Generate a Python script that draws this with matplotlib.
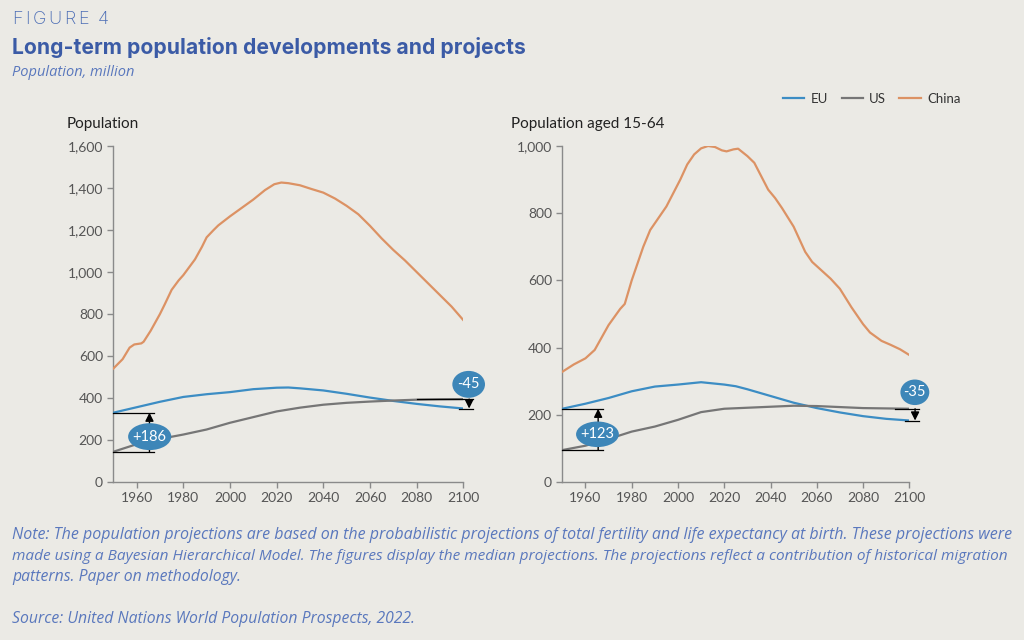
import matplotlib.pyplot as plt
from matplotlib.patches import Ellipse
from matplotlib.lines import Line2D

# ---- data (million) ----
eu_years = [1950, 1960, 1970, 1980, 1990, 2000, 2010, 2020, 2025, 2030, 2040, 2050, 2060, 2070, 2080, 2090, 2100]
eu_total = [330, 356, 382, 405, 418, 428, 442, 449, 450, 446, 436, 420, 402, 386, 372, 360, 350]
eu_working = [218, 233, 250, 270, 284, 290, 297, 290, 285, 276, 256, 236, 220, 207, 196, 188, 183]

us_years = [1950, 1960, 1970, 1980, 1990, 2000, 2010, 2020, 2030, 2040, 2050, 2060, 2070, 2080, 2090, 2100]
us_total = [144, 180, 205, 226, 250, 282, 309, 336, 354, 368, 377, 383, 388, 392, 394, 395]
us_working = [95, 108, 128, 150, 165, 185, 208, 218, 221, 224, 227, 226, 223, 220, 219, 218]

china_total_years = [1950, 1954, 1957, 1959, 1962, 1963, 1966, 1970, 1972, 1975, 1978, 1980, 1985, 1988,
                     1990, 1993, 1995, 2000, 2005, 2010, 2015, 2019, 2022, 2025, 2030, 2035, 2040, 2045,
                     2050, 2055, 2060, 2065, 2070, 2075, 2080, 2085, 2090, 2095, 2100]
china_total = [540, 585, 640, 655, 660, 668, 720, 800, 845, 915, 960, 985, 1060, 1120,
               1165, 1200, 1222, 1265, 1305, 1345, 1390, 1418, 1426, 1423, 1413, 1395, 1378, 1350,
               1315, 1275, 1220, 1160, 1105, 1055, 1000, 945, 890, 835, 771]

china_working_years = [1950, 1955, 1960, 1964, 1967, 1970, 1975, 1977, 1980, 1985, 1988, 1992, 1995, 1998,
                       2001, 2004, 2007, 2010, 2013, 2016, 2019, 2021, 2024, 2026, 2030, 2033, 2036, 2039,
                       2042, 2045, 2050, 2055, 2058, 2062, 2066, 2070, 2075, 2080, 2083, 2088, 2092, 2096, 2100]
china_working = [328, 350, 368, 393, 430, 467, 515, 530, 600, 700, 750, 790, 820, 860,
                 900, 945, 975, 993, 1000, 997, 987, 984, 990, 992, 970, 950, 910, 870,
                 845, 815, 760, 685, 655, 630, 605, 575, 520, 470, 445, 420, 408, 395, 378]

panel_titles = ["Population", "Population aged 15-64"]
x_ticks = [1960, 1980, 2000, 2020, 2040, 2060, 2080, 2100]

BG = "#ebeae5"
EU_C = "#3c8dc4"
US_C = "#767676"
CN_C = "#dc9264"
BADGE = "#3d86b8"
BLUE_TXT = "#3b5ba6"
NOTE_C = "#5a78bd"

fig = plt.figure(figsize=(10.24, 6.4), dpi=100, facecolor=BG)
renderer = fig.canvas.get_renderer()

# header: "FIGURE 4" with wide letter spacing, one glyph at a time
x_px = 12
for ch in "FIGURE 4":
    t = fig.text(x_px / 1024, 1 - 20 / 640, ch, fontsize=13, color="#4a6cb5", family="Inter",
                 fontweight="light", va="center")
    w = t.get_window_extent(renderer).width if ch != " " else 4
    x_px += w + 2.6
fig.text(12 / 1024, 1 - 48 / 640, "Long-term population developments and projects", fontsize=15.2,
         color=BLUE_TXT, family="Inter", fontweight="bold", va="center")
fig.text(12 / 1024, 1 - 73 / 640, "Population, million", fontsize=10.5, color=NOTE_C, family="Open Sans",
         style="italic", va="center")

panels = [
    dict(rect=[113.3 / 1024, 158 / 640, 350 / 1024, 336 / 640], eu=eu_total, us=us_total,
         cn_x=china_total_years, cn=china_total, ylim=1600, ystep=200, yfmt="{:,.0f}",
         ell_h=128, lab1=(1965.6, 216), lab2=(2102.3, 465), w1=18.5, w2=14),
    dict(rect=[562.3 / 1024, 158 / 640, 347 / 1024, 336 / 640], eu=eu_working, us=us_working,
         cn_x=china_working_years, cn=china_working, ylim=1000, ystep=200, yfmt="{:,.0f}",
         ell_h=76, lab1=(1965.2, 142), lab2=(2102.4, 267), w1=18.5, w2=12.5),
]

for i, p in enumerate(panels):
    ax = fig.add_axes(p["rect"])
    ax.set_facecolor(BG)
    ax.plot(eu_years, p["eu"], color=EU_C, lw=1.6, label="EU", zorder=3)
    ax.plot(us_years, p["us"], color=US_C, lw=1.6, label="US", zorder=3)
    ax.plot(p["cn_x"], p["cn"], color=CN_C, lw=1.6, label="China", zorder=3)

    ax.set_xlim(1950, 2100)
    ax.set_ylim(0, p["ylim"])
    ax.set_xticks(x_ticks)
    yt = list(range(0, p["ylim"] + 1, p["ystep"]))
    ax.set_yticks(yt)
    ax.set_yticklabels([p["yfmt"].format(v) for v in yt])
    for s in ["top", "right"]:
        ax.spines[s].set_visible(False)
    for s in ["left", "bottom"]:
        ax.spines[s].set_color("#8a8a8a")
        ax.spines[s].set_linewidth(1.0)
    ax.tick_params(colors="#8a8a8a", labelcolor="#555555", labelsize=10, length=4, width=1.0)
    for lab in ax.get_xticklabels() + ax.get_yticklabels():
        lab.set_family("Lato")

    # start gap (EU minus US in 1950)
    eu0, us0 = p["eu"][0], p["us"][0]
    for yv in (eu0, us0):
        ax.plot([1950, 1967.5], [yv, yv], color="black", lw=0.9, clip_on=False, zorder=4)
    ax.annotate("", xy=(1965.5, eu0), xytext=(1965.5, us0), annotation_clip=False,
                arrowprops=dict(arrowstyle="-|>,head_width=0.25,head_length=0.5", color="black", lw=1.0,
                                shrinkA=0, shrinkB=0), zorder=4)
    e = Ellipse(p["lab1"], p["w1"], p["ell_h"], facecolor=BADGE, edgecolor="none", clip_on=False, zorder=5)
    ax.add_patch(e)
    ax.text(p["lab1"][0], p["lab1"][1], f"+{eu0 - us0:.0f}", color="white", fontsize=10.5, family="Lato",
            ha="center", va="center", zorder=6)

    # end gap (EU minus US in 2100)
    eu1, us1 = p["eu"][-1], p["us"][-1]
    ax.plot([2080 if i == 0 else 2094, 2104], [us1, us1], color="black", lw=0.9, clip_on=False, zorder=4)
    ax.plot([2098, 2104], [eu1, eu1], color="black", lw=0.9, clip_on=False, zorder=4)
    ax.annotate("", xy=(2102.5, eu1), xytext=(2102.5, us1), annotation_clip=False,
                arrowprops=dict(arrowstyle="-|>,head_width=0.25,head_length=0.5", color="black", lw=1.0,
                                shrinkA=0, shrinkB=0), zorder=4)
    e = Ellipse(p["lab2"], p["w2"], p["ell_h"], facecolor=BADGE, edgecolor="none", clip_on=False, zorder=5)
    ax.add_patch(e)
    ax.text(p["lab2"][0], p["lab2"][1], f"{eu1 - us1:.0f}", color="white", fontsize=10.5, family="Lato",
            ha="center", va="center", zorder=6)

    fig.text((67 if i == 0 else 511) / 1024, 1 - 124 / 640, panel_titles[i], fontsize=11, color="#222222",
             family="Lato", va="center")

handles = [Line2D([], [], color=EU_C, lw=1.6), Line2D([], [], color=US_C, lw=1.6),
           Line2D([], [], color=CN_C, lw=1.6)]
fig.legend(handles, ["EU", "US", "China"], loc="center", bbox_to_anchor=(872 / 1024, 1 - 99 / 640), ncol=3,
           frameon=False, prop={"family": "Lato", "size": 9.5}, handlelength=1.6, columnspacing=1.0,
           handletextpad=0.5, labelcolor="#333333")

note_lines = [
    "Note: The population projections are based on the probabilistic projections of total fertility and "
    "life expectancy at birth. These projections were",
    "made using a Bayesian Hierarchical Model. The figures display the median projections. The projections "
    "reflect a contribution of historical migration",
    "patterns. Paper on methodology.",
]

# fit the two full note lines to the text block width (about 998 px, like the reference)
sizes = []
for k, line in enumerate(note_lines):
    t = fig.text(12 / 1024, 1 - (535 + 21 * k) / 640, line, fontsize=11, color=NOTE_C, family="Open Sans",
                 style="italic", va="center")
    if k < 2:
        w = t.get_window_extent(renderer).width
        t.set_fontsize(11 * 998 / w)
        sizes.append(11 * 998 / w)
    else:
        t.set_fontsize(sum(sizes) / len(sizes))
fig.text(12 / 1024, 1 - 619 / 640, "Source: United Nations World Population Prospects, 2022.",
         fontsize=sum(sizes) / len(sizes), color=NOTE_C, family="Open Sans", style="italic", va="center")

fig.savefig("out.png", dpi=100, facecolor=BG)
